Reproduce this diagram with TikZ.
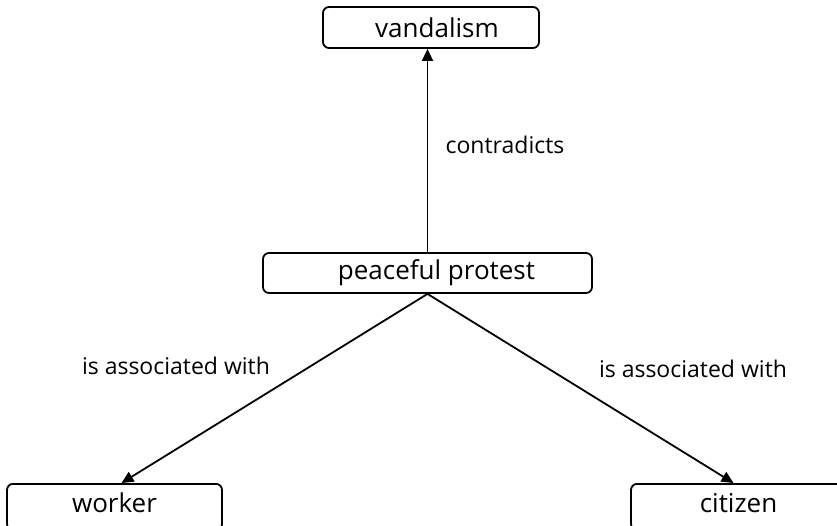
\documentclass[tikz,border=0pt]{standalone}
\usepackage{fontspec}
\setmainfont{Open Sans}
\usetikzlibrary{arrows.meta}

\tikzset{
  concepto/.style={draw,line width=1.8pt,rounded corners=6pt,inner sep=0pt,
    font=\fontsize{26}{30}\selectfont},
  abajo/.style={concepto,anchor=north,text height=29pt,text depth=17pt},
  enlace/.style={line width=1.8pt,-{Triangle[length=12pt,width=11pt]}},
  etiqueta/.style={font=\fontsize{23}{27}\selectfont}
}

\begin{document}
\begin{tikzpicture}[x=1pt,y=-1pt]

% Marco
\useasboundingbox (0,0) rectangle (837,525);

% Conceptos
\node[concepto,minimum width=216pt,minimum height=41pt] (van) at (431,27.5) {\hspace*{12pt}vandalism};
\node[concepto,minimum width=329pt,minimum height=40pt] (pp) at (427.5,273) {\hspace*{18pt}peaceful protest};
\node[abajo,minimum width=215pt] (wrk) at (114.5,483) {worker};
\node[abajo,minimum width=215pt] (cit) at (738.5,483) {citizen};

% Enlaces
\draw[enlace] (pp.north) -- (pp.north |- van.south);
\draw[enlace] (pp.south) -- ([xshift=7pt]wrk.north);
\draw[enlace] (pp.south) -- ([xshift=-5pt]cit.north);

% Etiquetas de los enlaces
\node[etiqueta] (lcon) at (505,145) {contradicts};
\node[etiqueta] (lizq) at (176,366) {is associated with};
\node[etiqueta] (lder) at (693,369) {is associated with};

\end{tikzpicture}
\end{document}
